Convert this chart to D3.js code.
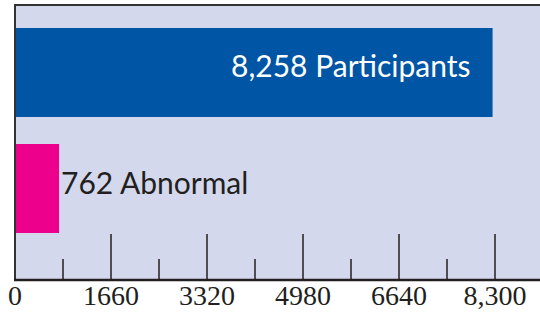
<!DOCTYPE html>
<html lang="en">
<head>
  <meta charset="UTF-8">
  <title>Participants vs Abnormal</title>
  <script src="https://cdnjs.cloudflare.com/ajax/libs/d3/7.8.5/d3.min.js"></script>
  <style>
    body { margin: 0; background: #fff; }
    .bar-label { font-family: Lato, "Open Sans", sans-serif; font-size: 30px; }
    .tick-label { font-family: "Liberation Serif", "DejaVu Serif", serif; font-size: 28px; fill: #231f20; }
  </style>
</head>
<body>
  <svg width="540" height="313"></svg>
  <script>
    // values
    var categories = ["Participants", "Abnormal"]
    var values = [8258, 762]
    var labels = ["8,258 Participants", "762 Abnormal"]
    var colors = ["#0055a5", "#ec008c"]
    var majorTicks = [0, 1660, 3320, 4980, 6640, 8300]
    var tickLabels = ["0", "1660", "3320", "4980", "6640", "8,300"]
    var minorTicks = [830, 2490, 4150, 5810, 7470]

    var svg = d3.select("svg")
    var mLeft = 15, mTop = 5, mBottom = 280

    var x = d3.scaleLinear().domain([0, 1660]).range([mLeft, mLeft + 96])
    var y = d3.scaleBand().domain(categories).range([28, 233]).paddingInner(0.233)

    // plot background
    svg.append("rect")
       .attr("x", mLeft).attr("y", mTop)
       .attr("width", 540 - mLeft).attr("height", mBottom - mTop)
       .attr("fill", "#d3d8ec")

    // bars
    svg.selectAll(".bar")
       .data(categories)
       .enter().append("rect")
       .attr("class", "bar")
       .attr("x", x(0))
       .attr("y", d => y(d))
       .attr("width", (d, i) => x(values[i]) - x(0))
       .attr("height", y.bandwidth())
       .attr("fill", (d, i) => colors[i])

    // labels: first one inside bar (white, right aligned), second one right of bar
    svg.selectAll(".bar-label")
       .data(categories)
       .enter().append("text")
       .attr("class", "bar-label")
       .attr("x", (d, i) => i === 0 ? x(values[i]) - 22 : x(values[i]) + 2)
       .attr("y", d => y(d) + y.bandwidth() / 2 + 5)
       .attr("text-anchor", (d, i) => i === 0 ? "end" : "start")
       .attr("fill", (d, i) => i === 0 ? "#fff" : "#231f20")
       .text((d, i) => labels[i])

    // tick marks
    svg.selectAll(".major")
       .data(majorTicks.slice(1))
       .enter().append("line")
       .attr("x1", d => x(d)).attr("x2", d => x(d))
       .attr("y1", 234).attr("y2", mBottom)
       .attr("stroke", "#231f20").attr("stroke-width", 1.5)

    svg.selectAll(".minor")
       .data(minorTicks)
       .enter().append("line")
       .attr("x1", d => x(d)).attr("x2", d => x(d))
       .attr("y1", 259).attr("y2", mBottom)
       .attr("stroke", "#231f20").attr("stroke-width", 1.5)

    svg.selectAll(".tick-label")
       .data(majorTicks)
       .enter().append("text")
       .attr("class", "tick-label")
       .attr("x", d => x(d))
       .attr("y", 305)
       .attr("text-anchor", "middle")
       .text((d, i) => tickLabels[i])

    // frame: top and left border, bottom axis line
    svg.append("line")
       .attr("x1", mLeft - 1).attr("x2", 540).attr("y1", mTop).attr("y2", mTop)
       .attr("stroke", "#333").attr("stroke-width", 2)
    svg.append("line")
       .attr("x1", mLeft).attr("x2", mLeft).attr("y1", mTop - 1).attr("y2", mBottom)
       .attr("stroke", "#333").attr("stroke-width", 2)
    svg.append("line")
       .attr("x1", mLeft - 1).attr("x2", 540).attr("y1", mBottom).attr("y2", mBottom)
       .attr("stroke", "#231f20").attr("stroke-width", 2.5)
  </script>
</body>
</html>
